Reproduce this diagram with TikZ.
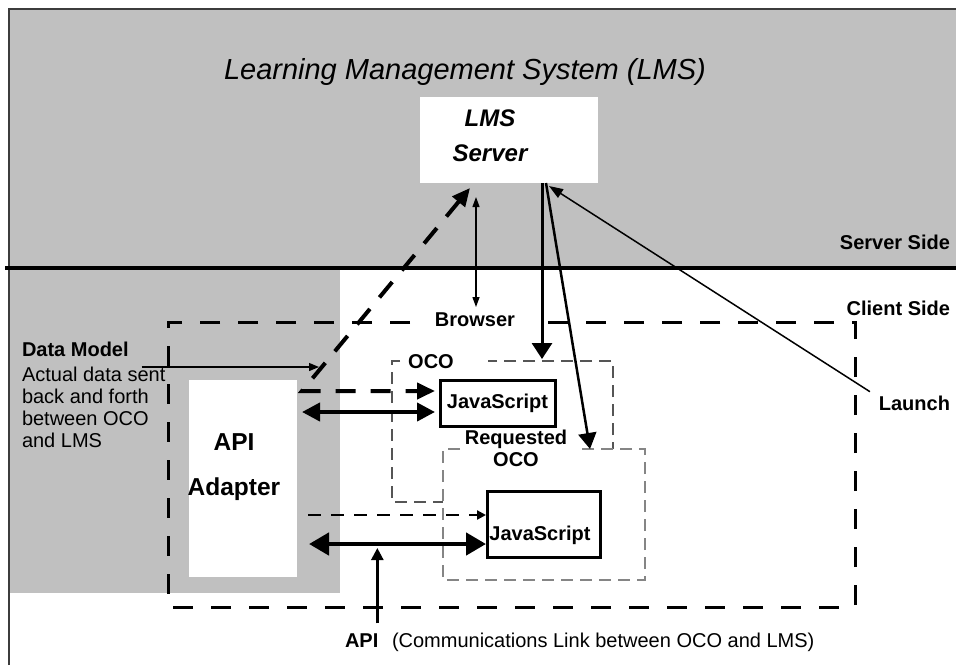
\documentclass[tikz,border=0pt]{standalone}
\usepackage{fontspec}
\setmainfont{Liberation Sans}
\usetikzlibrary{arrows.meta,calc}
\definecolor{panelgrey}{HTML}{C0C0C0}
\definecolor{framegrey}{HTML}{3C3C3C}
\definecolor{ocogrey}{HTML}{555555}
\definecolor{reqgrey}{HTML}{858585}
\tikzset{
  txt/.style={inner sep=0pt, outer sep=0pt, font=\fontsize{20}{22}\selectfont},
  btxt/.style={inner sep=0pt, outer sep=0pt, font=\fontsize{20}{22}\selectfont\bfseries},
  whitebox/.style={fill=white, inner sep=0pt, outer sep=0pt},
  region/.style={inner sep=0pt, outer sep=0pt},
  jsbox/.style={draw, line width=3pt, fill=white, inner sep=0pt, outer sep=0pt},
  browserline/.style={line width=3pt, dash pattern=on 20pt off 18pt},
  ocoline/.style={draw=ocogrey, line width=1.6pt, dash pattern=on 12pt off 7pt},
  reqline/.style={draw=reqgrey, line width=1.8pt, dash pattern=on 12pt off 7pt},
  bigtip/.tip={Triangle[length=18pt,width=18pt]},
  hugetip/.tip={Triangle[length=20pt,width=22pt]},
  bigarrow/.style={line width=4pt, bigtip-bigtip},
  bigarrowb/.style={line width=4.5pt, hugetip-hugetip},
  datalink/.style={line width=4pt, dash pattern=on 20pt off 15pt,
    {Triangle[length=18pt,width=16pt]}-{Triangle[length=18pt,width=16pt]}},
  smalldash/.style={line width=2.8pt, dash pattern=on 13pt off 10pt,
    -{Triangle[length=9pt,width=9pt]}},
  thinlink/.style={line width=1.2pt,
    {Triangle[length=10pt,width=7pt]}-{Triangle[length=10pt,width=7pt]}},
  pointer/.style={line width=1.2pt, -{Triangle[length=10pt,width=8pt]}},
}
\begin{document}
\begin{tikzpicture}[x=1pt,y=-1pt]
\useasboundingbox (0,0) rectangle (956,665);

% shaded server area and the shaded adapter column
\fill[panelgrey] (9,9) rectangle (956,266);
\fill[panelgrey] (9,270) rectangle (340,593);
\draw[framegrey, line width=2pt] (9,665) -- (9,9) -- (956,9);
\draw[line width=4pt] (5,268) -- (956,268);

% server side
\node[font=\fontsize{29}{34}\selectfont\itshape] (title) at (465,72) {Learning Management System (LMS)};
\node[whitebox, minimum width=178pt, minimum height=86pt] (srv) at (509,140) {};
\node[font=\fontsize{24}{35}\selectfont\bfseries\itshape, align=center, inner sep=0pt] (srvtxt) at (490,136) {LMS\\Server};
\node[btxt, anchor=east] (sside) at (950,242) {Server Side};

% client side
\node[btxt, anchor=east] (cside) at (950,308) {Client Side};
\node[btxt, anchor=east] (launch) at (950,403) {Launch};
\node[btxt] (brw) at (475,320) {Browser};
\node[region, minimum width=687pt, minimum height=285pt] (bro) at (511.5,464.5) {};
\draw[browserline] ($(bro.north west)+(242,0)$) -- (bro.north west) -- (bro.south west)
  -- (bro.south east) -- (bro.north east) -- ($(bro.north west)+(367,0)$);

\node[whitebox, minimum width=108pt, minimum height=197pt] (api) at (243,478.5) {};
\node[font=\fontsize{24.5}{45}\selectfont\bfseries, align=center, inner sep=0pt] (apilbl) at (234,467) {API\\Adapter};

\node[btxt, anchor=west] (dmtitle) at (22,349) {Data Model};
\node[txt, anchor=north west, align=left] (dmtext) at (22,367) {Actual data sent\\back and forth\\between OCO\\and LMS};

% content objects
\node[region, minimum width=221pt, minimum height=141pt] (oco) at (502.5,431.5) {};
\draw[ocoline] ($(oco.north west)+(8,0)$) -- (oco.north west) -- (oco.south west)
  -- (oco.south east) -- (oco.north east) -- ($(oco.north west)+(96,0)$);
\node[btxt] (ocolbl) at (431,362) {OCO};

\node[whitebox, minimum width=202pt, minimum height=131pt] (req) at (544,514.5) {};
\draw[reqline] ($(req.north west)+(17,0)$) -- (req.north west) -- (req.south west)
  -- (req.south east) -- (req.north east) -- ($(req.north west)+(135,0)$);
\node[btxt, align=center] (reqlbl) at (516,448) {Requested\\OCO};

\node[jsbox, font=\fontsize{20}{22}\selectfont\bfseries, minimum width=115pt, minimum height=46pt] (js1) at (497.5,403) {JavaScript};
\node[jsbox, minimum width=113pt, minimum height=66pt] (js2) at (543.5,524) {};
\node[btxt] (js2txt) at (540,535) {JavaScript};

% bottom caption
\node[btxt, anchor=base west] (apitxt) at (345,647) {API};
\node[txt, anchor=base west] (commtxt) at (392,647) {(Communications Link between OCO and LMS)};

% ports on the server box
\coordinate (sp1) at ($(srv.south west)+(50,5)$);
\coordinate (sp2) at ($(srv.south west)+(56,14)$);
\coordinate (sp3) at ($(srv.south west)+(122,0)$);
\coordinate (sp4) at ($(srv.south west)+(126,0)$);
\coordinate (sp5) at ($(srv.south west)+(129,3)$);
\coordinate (corner) at ($(api.north east)+(5,11)$);
\coordinate (lnk) at ($(js2.west)+(-1,20)$);
\coordinate (apiup) at ($(apitxt.north east)+(-1,-10)$);

% connectors
\draw[datalink] (sp1) -- (corner) -- ($(js1.west |- corner)+(-5,0)$);
\draw[thinlink] (sp2) -- ($(brw.north)+(1,-6)$);
\draw[line width=3pt, -{Triangle[length=16pt,width=20pt]}] (sp3) -- ($(sp3 |- oco.north)+(0,-2)$);
\draw[line width=2.5pt, -{Triangle[length=16pt,width=18pt]}] (sp4) -- ($(req.north west)+(147,0)$);
\draw[line width=1.5pt, -{Triangle[length=14pt,width=10pt]}] ($(launch.north west)+(-9,-4)$) -- (sp5);
\draw[pointer] ($(dmtitle.east)+(13,18)$) -- ($(corner)+(17,-24)$);
\draw[bigarrow] ($(api.east |- js1.center)+(5,9)$) -- ($(js1.west)+(-5,9)$);
\draw[smalldash] ($(api.east |- js2.center)+(11,-9)$) -- ($(js2.west)+(-1,-9)$);
\draw[bigarrowb] ($(api.east |- lnk)+(12,0)$) -- (lnk);
\draw[line width=2.5pt, -{Triangle[length=12pt,width=12pt]}] (apiup) -- ($(apiup |- lnk)+(0,4)$);
\end{tikzpicture}
\end{document}
